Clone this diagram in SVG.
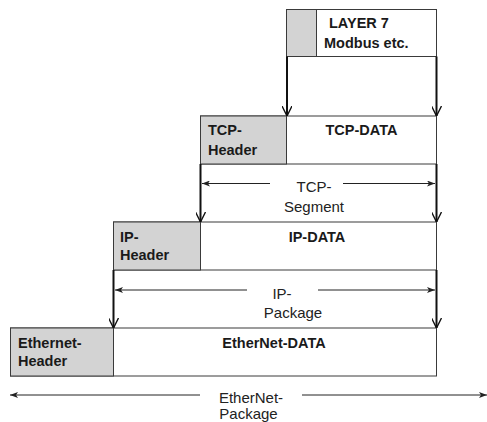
<svg xmlns="http://www.w3.org/2000/svg" width="487" height="422" viewBox="0 0 487 422">
<defs>
<style>
.hdr{fill:#d3d3d3;stroke:#3a3a3a;stroke-width:1}
.dat{fill:#ffffff;stroke:#3a3a3a;stroke-width:1}
.b{font-family:"Liberation Sans",Arial,sans-serif;font-weight:bold;font-size:14.5px;fill:#1a1a1a}
.r{font-family:"Liberation Sans",Arial,sans-serif;font-size:15px;fill:#222}
.v{stroke:#111;stroke-width:2;fill:none}
.h{stroke:#222;stroke-width:1;fill:none}
</style>
<marker id="vh" viewBox="0 0 10 10" refX="10" refY="5" markerWidth="10" markerHeight="10" markerUnits="userSpaceOnUse" orient="auto">
<path d="M0,0 L10,5 L0,10" fill="none" stroke="#111" stroke-width="1.4"/>
</marker>
<marker id="ah" viewBox="0 0 8 6" refX="8" refY="3" markerWidth="8" markerHeight="6" markerUnits="userSpaceOnUse" orient="auto-start-reverse">
<path d="M0,0 L8,3 L0,6 L2,3 Z" fill="#222"/>
</marker>
</defs>
<g id="layer7">
<rect class="dat" x="286.5" y="9.5" width="150" height="47"/>
<rect class="hdr" x="286.5" y="9.5" width="30" height="47"/>
<text class="b" x="329" y="28">LAYER 7</text>
<text class="b" x="324" y="48">Modbus etc.</text>
</g>
<g id="tcp">
<rect class="dat" x="200.5" y="116" width="236" height="48"/>
<rect class="hdr" x="200.5" y="116" width="86" height="48"/>
<text class="b" x="208" y="135">TCP-</text>
<text class="b" x="208" y="155">Header</text>
<text class="b" x="361.5" y="135" text-anchor="middle">TCP-DATA</text>
</g>
<g id="ip">
<rect class="dat" x="113.5" y="222" width="323" height="48"/>
<rect class="hdr" x="113.5" y="222" width="87" height="48"/>
<text class="b" x="120" y="242">IP-</text>
<text class="b" x="120" y="260">Header</text>
<text class="b" x="317" y="242" text-anchor="middle">IP-DATA</text>
</g>
<g id="ethernet">
<rect class="dat" x="10.5" y="328" width="426" height="48"/>
<rect class="hdr" x="10.5" y="328" width="103" height="48"/>
<text class="b" x="18" y="348">Ethernet-</text>
<text class="b" x="18" y="366">Header</text>
<text class="b" x="274" y="348" text-anchor="middle">EtherNet-DATA</text>
</g>
<g id="connectors">
<line class="v" x1="287" y1="56.5" x2="287" y2="116" marker-end="url(#vh)"/>
<line class="v" x1="436.5" y1="56.5" x2="436.5" y2="116" marker-end="url(#vh)"/>
<line class="v" x1="200.5" y1="164" x2="200.5" y2="222" marker-end="url(#vh)"/>
<line class="v" x1="436.5" y1="164" x2="436.5" y2="222" marker-end="url(#vh)"/>
<line class="v" x1="113.5" y1="270" x2="113.5" y2="328" marker-end="url(#vh)"/>
<line class="v" x1="436.5" y1="270" x2="436.5" y2="328" marker-end="url(#vh)"/>
<line class="h" x1="202" y1="183.5" x2="270" y2="183.5" marker-start="url(#ah)"/>
<line class="h" x1="343" y1="183.5" x2="435" y2="183.5" marker-end="url(#ah)"/>
<line class="h" x1="115" y1="290" x2="247" y2="290" marker-start="url(#ah)"/>
<line class="h" x1="318" y1="290" x2="435" y2="290" marker-end="url(#ah)"/>
<line class="h" x1="10" y1="395" x2="200" y2="395" marker-start="url(#ah)"/>
<line class="h" x1="302" y1="395" x2="487" y2="395" marker-end="url(#ah)"/>
</g>
<g id="labels">
<text class="r" x="314" y="192" text-anchor="middle">TCP-</text>
<text class="r" x="314" y="212" text-anchor="middle">Segment</text>
<text class="r" x="282" y="298.5" text-anchor="middle">IP-</text>
<text class="r" x="293" y="317.5" text-anchor="middle">Package</text>
<text class="r" x="251" y="403" text-anchor="middle">EtherNet-</text>
<text class="r" x="248.5" y="418.5" text-anchor="middle">Package</text>
</g>
</svg>
